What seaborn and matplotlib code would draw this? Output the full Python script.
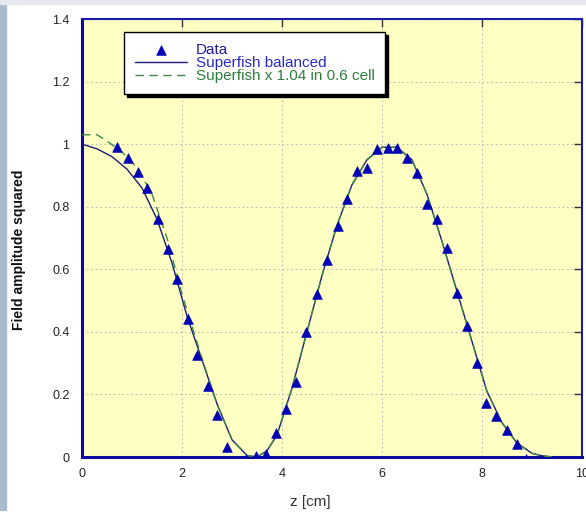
import numpy as np
import pandas as pd
import matplotlib
matplotlib.use("Agg")
import matplotlib.pyplot as plt
from matplotlib.patches import Rectangle
import seaborn as sns

# measured points (triangles)
z_data = [0.70, 0.91, 1.11, 1.29, 1.51, 1.71, 1.89, 2.11, 2.29, 2.51, 2.69, 2.91,
          3.29, 3.49, 3.68, 3.88, 4.09, 4.28, 4.48, 4.70, 4.90, 5.12, 5.30, 5.50,
          5.70, 5.90, 6.12, 6.31, 6.51, 6.71, 6.91, 7.11, 7.31, 7.51, 7.71, 7.91,
          8.09, 8.29, 8.51, 8.71, 8.89]
amp_data = [0.99, 0.955, 0.91, 0.86, 0.76, 0.665, 0.57, 0.44, 0.325, 0.227, 0.134, 0.032,
            -0.005, 0.003, 0.01, 0.077, 0.152, 0.24, 0.40, 0.52, 0.63, 0.738, 0.824, 0.914,
            0.923, 0.984, 0.987, 0.987, 0.955, 0.907, 0.808, 0.76, 0.667, 0.524, 0.419, 0.30,
            0.172, 0.131, 0.086, 0.04, -0.006]

# Superfish balanced
z_sf = [0, 0.3, 0.6, 0.9, 1.2, 1.5, 1.8, 2.1, 2.4, 2.7, 3.0, 3.3, 3.5, 3.7, 3.9,
        4.2, 4.5, 4.8, 5.1, 5.4, 5.7, 6.0, 6.3, 6.6, 6.9, 7.2, 7.5, 7.8, 8.1, 8.4,
        8.7, 9.0, 9.2, 9.4]
amp_sf = [1.0, 0.985, 0.96, 0.92, 0.86, 0.76, 0.62, 0.45, 0.31, 0.17, 0.055, 0.005, 0.0,
          0.02, 0.07, 0.22, 0.40, 0.58, 0.74, 0.87, 0.95, 0.99, 0.99, 0.95, 0.84, 0.69,
          0.53, 0.37, 0.21, 0.11, 0.045, 0.012, 0.004, 0.0]

# Superfish x 1.04 in 0.6 cell
z_sf2 = [0, 0.3, 0.5, 0.8, 1.1, 1.4, 1.7, 2.0, 2.4, 2.7, 3.0, 3.3, 3.5, 3.7, 3.9,
         4.2, 4.5, 4.8, 5.1, 5.4, 5.7, 6.0, 6.3, 6.6, 6.9, 7.2, 7.5, 7.8, 8.1, 8.4,
         8.7, 9.0, 9.2, 9.4]
amp_sf2 = [1.03, 1.03, 1.01, 0.975, 0.925, 0.84, 0.70, 0.52, 0.315, 0.17, 0.055, 0.005, 0.0,
           0.02, 0.07, 0.22, 0.40, 0.58, 0.74, 0.87, 0.95, 0.99, 0.99, 0.95, 0.84, 0.69,
           0.53, 0.37, 0.21, 0.11, 0.045, 0.012, 0.004, 0.0]

x_ticks = [0, 2, 4, 6, 8, 10]
y_ticks = [0, 0.2, 0.4, 0.6, 0.8, 1, 1.2, 1.4]
y_tick_labels = ["0", "0.2", "0.4", "0.6", "0.8", "1", "1.2", "1.4"]

sns.set_style("white", {"axes.facecolor": "#FFFFC4"})
plt.rcParams["font.family"] = ["Liberation Sans", "DejaVu Sans"]

fig = plt.figure(figsize=(5.86, 5.15), dpi=100)
fig.patch.set_facecolor("white")
# frame decoration of the slide
fig.patches.append(Rectangle((0, 0.01), 0.011, 0.99, transform=fig.transFigure,
                             color="#A9BCCF", zorder=0))
fig.patches.append(Rectangle((0, 0.993), 1, 0.007, transform=fig.transFigure,
                             color="#E6EAEE", zorder=0))

ax = fig.add_axes([0.140, 0.1126, 0.853, 0.8505])

df_data = pd.DataFrame({"z": z_data, "amp": amp_data})
df_sf = pd.DataFrame({"z": z_sf, "amp": amp_sf})
df_sf2 = pd.DataFrame({"z": z_sf2, "amp": amp_sf2})

sns.lineplot(data=df_sf, x="z", y="amp", ax=ax, color="#1C1C78", lw=1.0,
             sort=False, label="Superfish balanced", zorder=3)
sns.lineplot(data=df_sf2, x="z", y="amp", ax=ax, color="#3E8A4A", lw=1.0,
             sort=False, label="Superfish x 1.04 in 0.6 cell", zorder=3,
             dashes=False, linestyle=(0, (6, 4)))
sns.scatterplot(data=df_data, x="z", y="amp", ax=ax, marker="^", s=48,
                color="#0000B4", edgecolor="#0000B4", linewidth=0.5,
                label="Data", zorder=4)

ax.set_xlim(0, 10)
ax.set_ylim(0, 1.4)
ax.set_xticks(x_ticks)
ax.set_yticks(y_ticks)
ax.set_yticklabels(y_tick_labels)
ax.grid(True, color="#BBBBBB", linestyle=(0, (1.5, 2.5)), linewidth=0.8)
ax.tick_params(direction="in", length=6, width=1, color="#333333",
               top=True, right=True, labelsize=9, labelcolor="#222222")
ax.tick_params(axis="x", pad=8)
ax.tick_params(axis="y", pad=9)

for side in ["left", "bottom"]:
    ax.spines[side].set_color("#0A0AA0")
    ax.spines[side].set_linewidth(2.2)
for side in ["top", "right"]:
    ax.spines[side].set_color("#1A1AB0")
    ax.spines[side].set_linewidth(1.5)
for s in ax.spines.values():
    s.set_visible(True)

ax.set_xlabel("z [cm]", fontsize=11, color="#333333")
ax.xaxis.set_label_coords(0.456, -0.087)
ax.set_ylabel("Field amplitude squared", fontsize=10, fontweight="bold", color="#111111")
ax.yaxis.set_label_coords(-0.113, 0.473)

handles, labels = ax.get_legend_handles_labels()
order = [labels.index(l) for l in ["Data", "Superfish balanced", "Superfish x 1.04 in 0.6 cell"]]
leg = ax.legend([handles[i] for i in order], [labels[i] for i in order],
                loc="upper left", bbox_to_anchor=(0.084, 0.970), borderaxespad=0,
                frameon=True, fancybox=False, edgecolor="black", facecolor="white",
                shadow={"color": "black", "alpha": 1}, fontsize=11,
                labelspacing=-0.05, handlelength=3.4, handletextpad=0.6,
                borderpad=0.7)
leg.get_frame().set_linewidth(1.0)
text_colors = ["#1A1AA0", "#2A2AC0", "#2E7D3A"]
for t, c in zip(leg.get_texts(), text_colors):
    t.set_color(c)

fig.savefig("out.png", dpi=100)
